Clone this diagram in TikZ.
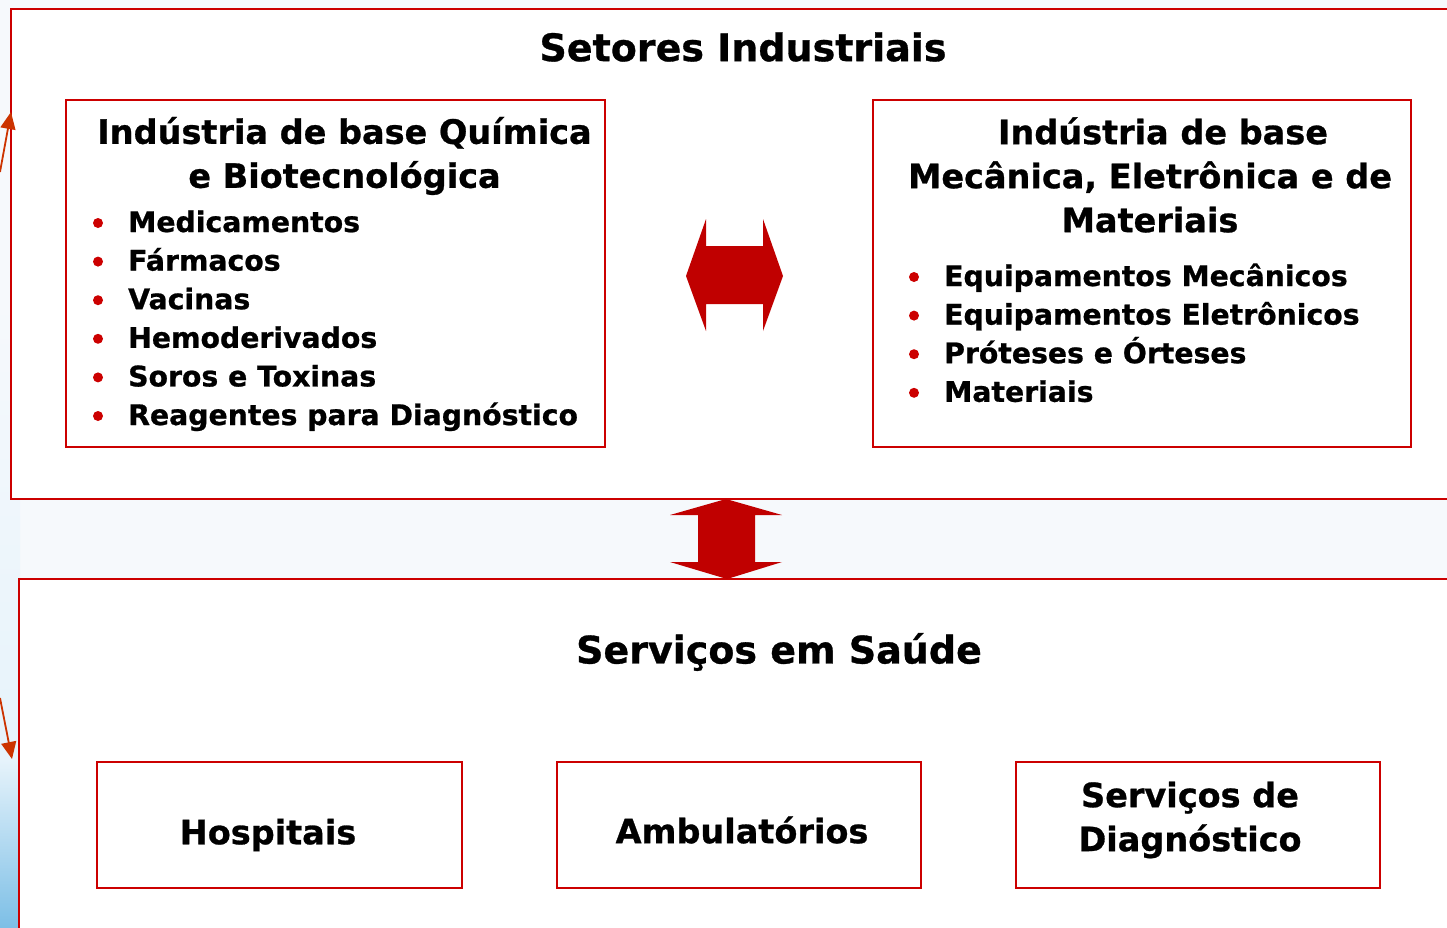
\documentclass[tikz,border=0pt]{standalone}
\usepackage{fontspec}
\setmainfont{DejaVu Sans}[BoldFeatures={FakeBold=0.8}]
\usetikzlibrary{arrows.meta}
\definecolor{frameRed}{HTML}{CC0000}
\definecolor{arrRed}{HTML}{C00000}
\definecolor{pointerRed}{HTML}{CC3300}
\definecolor{bgBlue}{HTML}{E6F3FB}
\definecolor{deepBlue}{HTML}{7DBFE6}
\definecolor{paleBg}{HTML}{F6F9FC}
\begin{document}
\begin{tikzpicture}[x=1pt,y=-1pt,
  frame/.style={draw=frameRed, line width=2pt, fill=white, inner sep=0pt},
  ttl/.style={font=\fontsize{38}{44}\selectfont\bfseries},
  subttl/.style={font=\fontsize{33.5}{44}\selectfont\bfseries, align=center},
  itm/.style={font=\fontsize{28.3}{30}\selectfont\bfseries, anchor=base west, inner sep=0pt},
  bul/.style={circle, fill=frameRed, inner sep=0pt, minimum size=10pt},
  boxtxt/.style={font=\fontsize{33.5}{44}\selectfont\bfseries, align=center},
  bigarrow/.style={fill=arrRed, draw=none},
  pointer/.style={draw=pointerRed, line width=1.8pt, -{Triangle[length=17pt,width=15pt]}}]
\useasboundingbox (0,0) rectangle (1447,927);
% background
\fill[paleBg] (0,0) rectangle (1447,927);
\shade[top color=paleBg, bottom color=bgBlue] (0,300) rectangle (20,760);
\shade[top color=bgBlue, bottom color=deepBlue] (0,760) rectangle (20,927);
% outer frames
\node[frame, anchor=north west, minimum width=1460pt, minimum height=490pt] (top) at (10,8) {};
\node[frame, anchor=north west, minimum width=1460pt, minimum height=360pt] (bottom) at (18,578) {};
% titles
\node[ttl] (ttltop) at (743,47) {Setores Industriais};
\node[ttl] (ttlbot) at (779,652) {Serviços em Saúde};
% left inner box
\node[frame, anchor=north west, minimum width=539pt, minimum height=347pt] (chem) at (65,99) {};
\node[subttl] (chemttl) at (344.5,156) {Indústria de base Química\\e Biotecnológica};
\foreach \t [count=\i from 0] in {Medicamentos,Fármacos,Vacinas,Hemoderivados,Soros e Toxinas,Reagentes para Diagnóstico}{
  \node[itm] (chemitem\i) at (128,{232+38.6*\i}) {\t};
  \node[bul] (chembul\i) at (98,{223+38.6*\i}) {};
}
% right inner box
\node[frame, anchor=north west, minimum width=538pt, minimum height=347pt] (mech) at (872,99) {};
\node[subttl] (mechttl) at (1150,175) {\hspace*{26pt}Indústria de base\\Mecânica, Eletrônica e de\\Materiais};
\foreach \t [count=\i from 0] in {Equipamentos Mecânicos,Equipamentos Eletrônicos,Próteses e Órteses,Materiais}{
  \node[itm] (mechitem\i) at (944,{286+38.6*\i}) {\t};
  \node[bul] (mechbul\i) at (914,{277+38.6*\i}) {};
}
% horizontal double arrow
\fill[bigarrow] (686,276) -- (706,219) -- (706,246) -- (763,246) -- (763,219) -- (783,276)
  -- (763,331) -- (763,304) -- (706,304) -- (706,331) -- cycle;
% vertical double arrow
\fill[bigarrow] (726,499) -- (782,515) -- (755,515) -- (755,562) -- (782,562) -- (727,579)
  -- (670,562) -- (698,562) -- (698,515) -- (670,515) -- cycle;
% bottom boxes
\node[frame, anchor=north west, minimum width=365pt, minimum height=126pt] (hosp) at (96,761) {};
\node[boxtxt] (hosptxt) at (268,835) {Hospitais};
\node[frame, anchor=north west, minimum width=364pt, minimum height=126pt] (amb) at (556,761) {};
\node[boxtxt] (ambtxt) at (742,830) {Ambulatórios};
\node[frame, anchor=north west, minimum width=364pt, minimum height=126pt] (diag) at (1015,761) {};
\node[boxtxt] (diagtxt) at (1190,820) {Serviços de\\Diagnóstico};
% left pointers
\coordinate (p1) at (0,172);
\coordinate (p2) at (0,698);
\draw[pointer] (p1) -- (11,112);
\draw[pointer] (p2) -- (12,759);
\end{tikzpicture}
\end{document}
